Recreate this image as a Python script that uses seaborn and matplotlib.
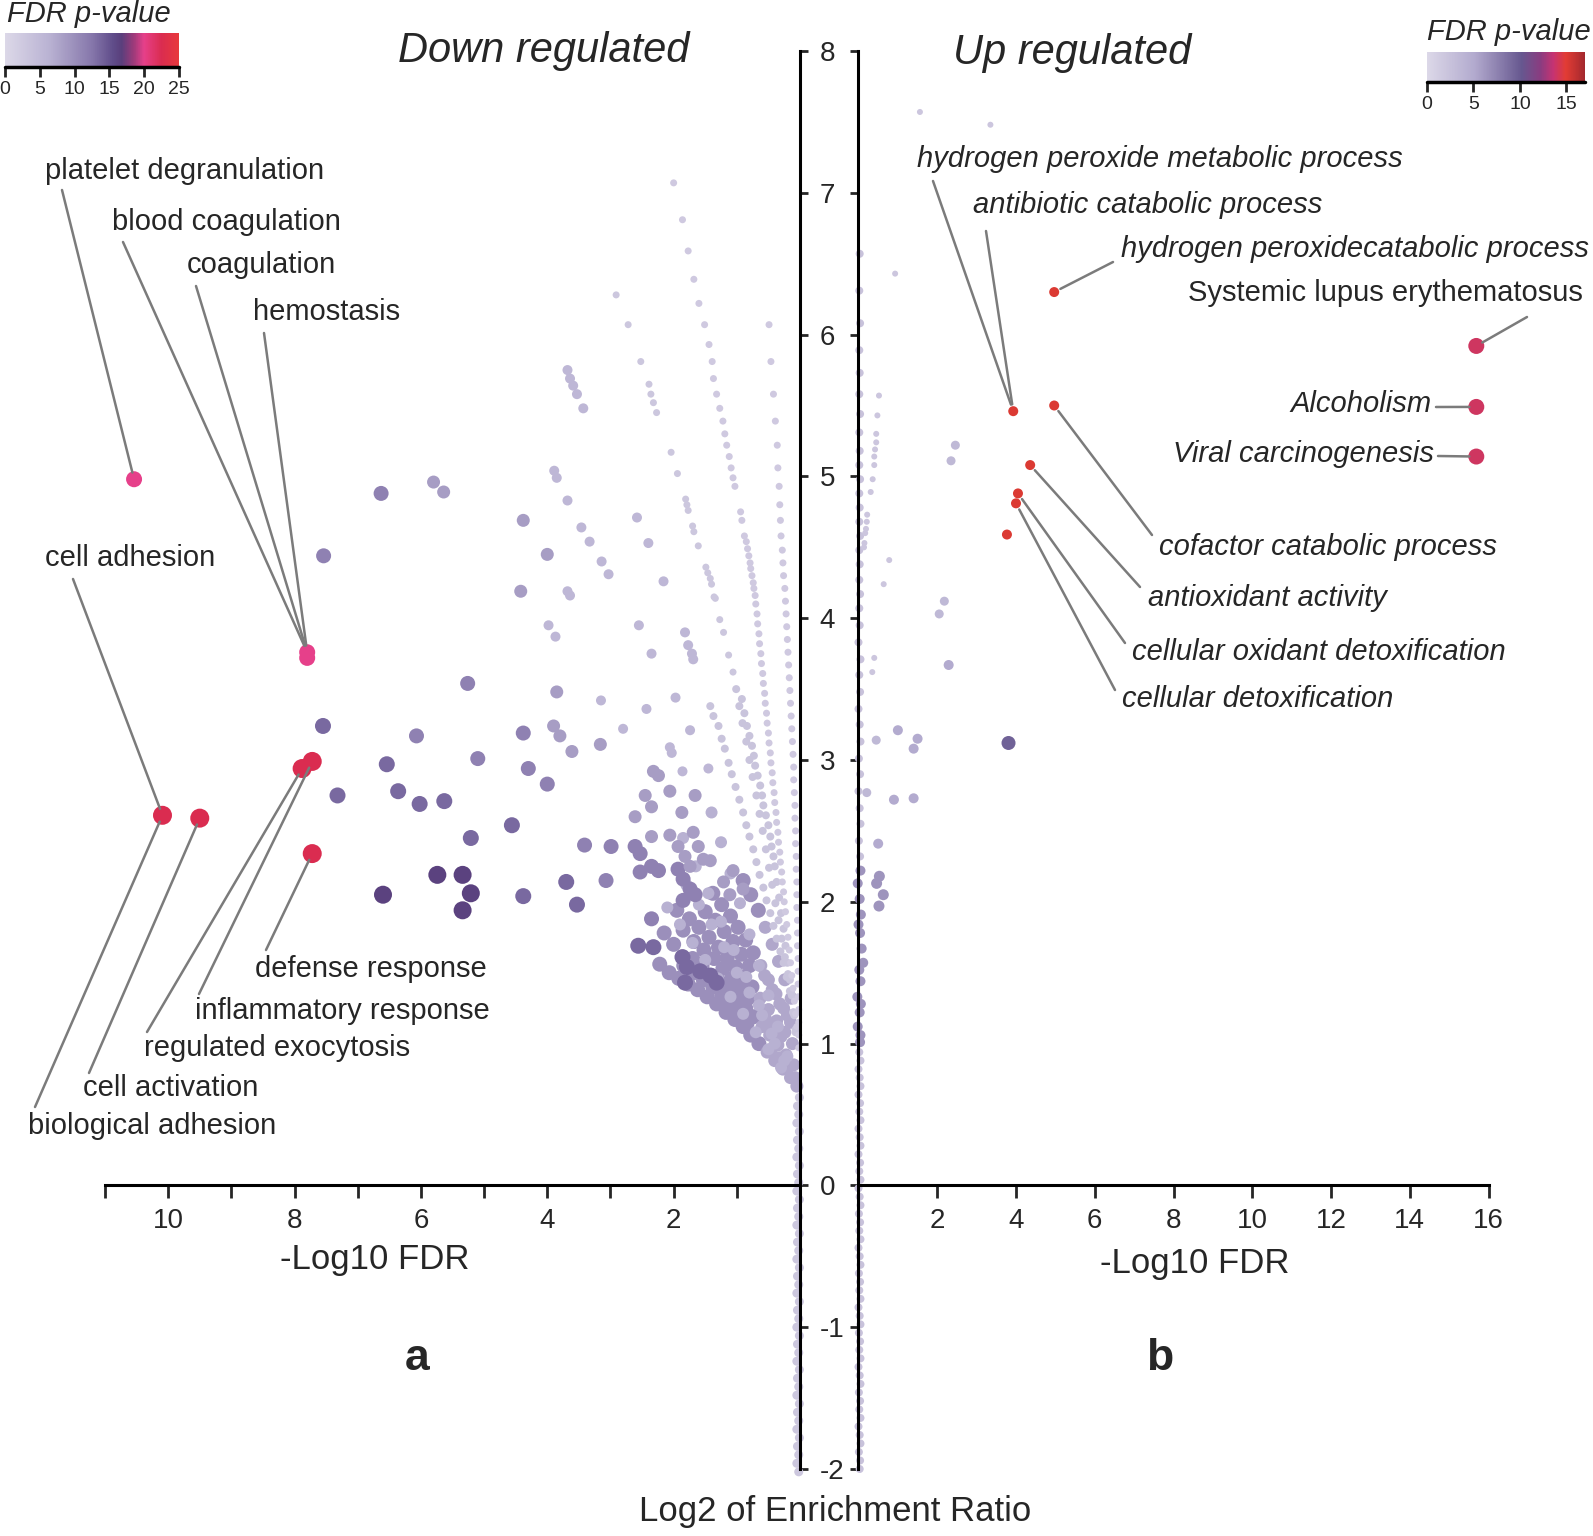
import numpy as np
import pandas as pd
import matplotlib
matplotlib.use("Agg")
import matplotlib.pyplot as plt
from matplotlib.colors import LinearSegmentedColormap, Normalize
from matplotlib.cm import ScalarMappable
import seaborn as sns

# ---------------- panel a: down regulated (-log10 FDR, log2 enrichment ratio)
down_ray_a = [(0.49, 6.07), (0.46, 5.81), (0.42, 5.58), (0.39, 5.39), (0.36, 5.22), (0.35, 5.06),
              (0.33, 4.93), (0.32, 4.80), (0.31, 4.69), (0.30, 4.58), (0.28, 4.48), (0.27, 4.39),
              (0.26, 4.30), (0.24, 4.21), (0.23, 4.12), (0.22, 4.03), (0.21, 3.94), (0.20, 3.85),
              (0.19, 3.76), (0.18, 3.67), (0.17, 3.58), (0.16, 3.49), (0.15, 3.40), (0.14, 3.31),
              (0.13, 3.22), (0.12, 3.13), (0.11, 3.04), (0.10, 2.95), (0.10, 2.86), (0.09, 2.77),
              (0.08, 2.68), (0.08, 2.59), (0.07, 2.50), (0.07, 2.41), (0.06, 2.32), (0.06, 2.23),
              (0.05, 2.14), (0.05, 2.05), (0.05, 1.96), (0.04, 1.87), (0.04, 1.78), (0.04, 1.69),
              (0.03, 1.60), (0.03, 1.51), (0.03, 1.42), (0.03, 1.33), (0.02, 1.24), (0.02, 1.15),
              (0.02, 1.06), (0.02, 0.97)]
down_ray_b = [(2.00, 7.07), (1.86, 6.81), (1.77, 6.59), (1.68, 6.39), (1.60, 6.22), (1.51, 6.07),
              (1.44, 5.93), (1.39, 5.81), (1.37, 5.69), (1.32, 5.58), (1.27, 5.48), (1.22, 5.39),
              (1.19, 5.30), (1.16, 5.22), (1.12, 5.14), (1.09, 5.06), (1.06, 4.99), (1.03, 4.93),
              (0.94, 4.75), (0.92, 4.69), (0.88, 4.58), (0.85, 4.54), (0.83, 4.49), (0.81, 4.44),
              (0.79, 4.39), (0.78, 4.35), (0.76, 4.30), (0.74, 4.25), (0.73, 4.21), (0.71, 4.16),
              (0.70, 4.10), (0.68, 4.03), (0.67, 3.96), (0.65, 3.89), (0.64, 3.82), (0.62, 3.75),
              (0.61, 3.68), (0.59, 3.61), (0.58, 3.54), (0.56, 3.47), (0.55, 3.40), (0.53, 3.33),
              (0.52, 3.26), (0.50, 3.19), (0.49, 3.12), (0.47, 3.05), (0.46, 2.98), (0.44, 2.91),
              (0.43, 2.84), (0.41, 2.77), (0.40, 2.70), (0.38, 2.63), (0.37, 2.56), (0.35, 2.49),
              (0.34, 2.42), (0.32, 2.35), (0.31, 2.28), (0.29, 2.21), (0.28, 2.14), (0.26, 2.07),
              (0.25, 2.00), (0.23, 1.93), (0.21, 1.84), (0.19, 1.75), (0.17, 1.66), (0.15, 1.57),
              (0.13, 1.48), (0.11, 1.39), (0.09, 1.30), (0.07, 1.21), (0.05, 1.12)]
down_ray_c = [(2.91, 6.28), (2.72, 6.07), (2.52, 5.81), (2.39, 5.65), (2.36, 5.58), (2.32, 5.52),
              (2.27, 5.45), (2.04, 5.17), (1.94, 5.02), (1.81, 4.84), (1.79, 4.80), (1.77, 4.76),
              (1.70, 4.65), (1.68, 4.61), (1.61, 4.51), (1.49, 4.36), (1.46, 4.32), (1.42, 4.28),
              (1.40, 4.24), (1.36, 4.15), (1.34, 4.14), (1.27, 3.99), (1.21, 3.90), (1.13, 3.74),
              (1.06, 3.62)]
down_lines = [(0.92, 3.43), (0.88, 3.33), (0.84, 3.24), (0.80, 3.17), (0.76, 3.10), (0.73, 3.03),
              (0.71, 2.96), (0.67, 2.89), (0.63, 2.82), (0.60, 2.75), (0.58, 2.68), (0.54, 2.61),
              (0.50, 2.54), (0.47, 2.46), (0.45, 2.39), (0.42, 2.32), (0.40, 2.25), (0.37, 2.14),
              (0.33, 2.03), (0.30, 1.92), (0.26, 1.81), (0.23, 1.69), (0.20, 1.57), (0.16, 1.45),
              (0.13, 1.34), (0.10, 1.22), (0.07, 1.10),
              (1.42, 3.38), (1.37, 3.31), (1.29, 3.24), (1.24, 3.15), (1.19, 3.08), (1.13, 2.98),
              (1.08, 2.90), (1.02, 2.81), (0.96, 2.72), (0.90, 2.63), (0.85, 2.54), (0.80, 2.46),
              (0.74, 2.37), (0.69, 2.28), (0.64, 2.19), (0.58, 2.10), (0.53, 2.01), (0.47, 1.92),
              (0.42, 1.83), (0.37, 1.74), (0.31, 1.65), (0.26, 1.57), (0.21, 1.47), (0.16, 1.37),
              (0.11, 1.22), (0.07, 1.08),
              (1.01, 3.50), (0.96, 3.38), (0.91, 3.26), (0.85, 3.13), (0.80, 3.00), (0.75, 2.88),
              (0.69, 2.75), (0.64, 2.62), (0.59, 2.50), (0.54, 2.37), (0.49, 2.24), (0.44, 2.12),
              (0.39, 1.99), (0.34, 1.87), (0.29, 1.74), (0.24, 1.61), (0.19, 1.49), (0.14, 1.36),
              (0.09, 1.20)]
down_light = [(3.68, 5.75), (3.64, 5.69), (3.59, 5.64), (3.53, 5.58), (3.43, 5.48), (3.89, 5.04),
              (3.85, 4.99), (3.68, 4.83), (3.46, 4.64), (3.33, 4.54), (3.14, 4.40), (3.03, 4.31),
              (2.58, 4.71), (2.40, 4.53), (2.16, 4.26), (3.68, 4.19), (3.64, 4.16), (3.98, 3.95),
              (3.87, 3.87), (2.55, 3.95), (2.35, 3.75), (1.82, 3.90), (1.77, 3.81), (1.71, 3.75),
              (1.69, 3.71), (1.97, 3.44), (1.74, 3.21), (2.06, 3.09), (2.03, 3.05), (2.43, 3.36),
              (2.80, 3.22), (3.15, 3.42), (1.45, 2.94), (1.86, 2.92)]
down_fan = [(0.25, 0.88), (0.45, 1.07), (0.65, 1.27), (0.85, 1.47), (1.05, 1.66), (1.25, 1.86),
            (1.45, 2.06), (1.65, 2.25), (1.85, 2.45),
            (0.20, 0.91), (0.35, 1.12), (0.50, 1.34), (0.65, 1.55), (0.80, 1.77), (0.95, 1.99),
            (1.10, 2.20), (1.25, 2.42), (1.40, 2.63),
            (0.30, 0.83), (0.50, 0.96), (0.70, 1.08), (0.90, 1.21), (1.10, 1.33), (1.30, 1.46),
            (1.50, 1.59), (1.70, 1.71), (1.90, 1.84), (2.10, 1.96),
            (0.40, 1.00), (0.60, 1.20), (0.80, 1.36), (1.00, 1.50), (1.20, 1.68), (1.40, 1.84),
            (1.60, 1.98), (1.80, 2.12)]
down_mid = [(4.38, 4.69), (4.00, 4.45), (4.42, 4.19), (5.80, 4.96), (5.64, 4.89), (3.85, 3.48),
            (3.90, 3.24), (3.80, 3.17), (3.61, 3.06), (3.16, 3.11), (2.32, 2.92), (2.24, 2.89),
            (2.45, 2.75), (2.35, 2.67), (2.61, 2.60), (2.06, 2.78), (1.66, 2.75), (1.87, 2.63),
            (2.35, 2.46), (2.06, 2.47), (1.93, 2.39), (1.82, 2.32), (1.74, 2.25), (1.69, 2.49),
            (1.61, 2.39), (1.53, 2.30), (1.42, 2.29), (1.21, 2.14), (1.11, 2.05), (1.06, 2.22),
            (0.90, 2.09)]
down_mid_dark = [(6.63, 4.88), (7.54, 4.44), (5.26, 3.54), (4.38, 3.19), (4.30, 2.94), (4.00, 2.83),
                 (5.10, 3.01), (6.07, 3.17), (2.61, 2.39), (2.53, 2.34), (2.35, 2.25), (2.24, 2.22),
                 (2.53, 2.21), (1.93, 2.23), (1.85, 2.16), (1.74, 2.09), (1.66, 2.05), (1.85, 2.01),
                 (2.35, 1.88), (2.99, 2.39), (3.41, 2.40), (3.07, 2.15)]
down_dark = [(7.55, 3.24), (6.54, 2.97), (6.36, 2.78), (6.02, 2.69), (5.63, 2.71), (5.21, 2.45),
             (4.56, 2.54), (3.70, 2.14), (3.53, 1.98), (2.56, 1.69), (2.32, 1.68), (1.86, 1.61),
             (1.79, 1.54), (1.82, 1.43), (1.58, 1.51), (1.42, 1.48), (1.32, 1.43), (7.32, 2.75),
             (4.38, 2.04)]
down_darkest = [(5.74, 2.19), (5.34, 2.19), (5.21, 2.06), (5.34, 1.94), (6.60, 2.05)]
down_blob_inner = [(0.05, 0.70), (0.15, 0.76), (0.27, 0.82), (0.40, 0.88), (0.52, 0.94), (0.10, 0.85),
                   (0.22, 0.92), (0.35, 0.99), (0.48, 1.06), (0.60, 1.12), (0.12, 1.00), (0.24, 1.08),
                   (0.37, 1.16), (0.50, 1.24), (0.63, 1.32), (0.15, 1.15), (0.26, 1.25), (0.38, 1.35),
                   (0.50, 1.45), (0.62, 1.55), (0.14, 1.32), (0.24, 1.45), (0.34, 1.58), (0.44, 1.70),
                   (0.55, 1.82), (0.08, 0.76), (0.20, 0.82), (0.32, 0.90), (0.45, 0.96), (0.30, 1.05),
                   (0.42, 1.12), (0.55, 1.18), (0.20, 1.20), (0.32, 1.28), (0.44, 1.38), (0.56, 1.48)]
down_blob_outer = [(0.65, 1.00), (0.78, 1.06), (0.90, 1.12), (1.03, 1.17), (1.17, 1.22), (1.32, 1.28),
                   (1.47, 1.33), (1.62, 1.38), (1.77, 1.42), (1.92, 1.46), (2.07, 1.50), (2.22, 1.56),
                   (0.73, 1.19), (0.86, 1.25), (0.99, 1.31), (1.12, 1.37), (1.26, 1.43), (1.40, 1.48),
                   (1.55, 1.55), (1.70, 1.60), (2.00, 1.70), (2.15, 1.78), (0.76, 1.40), (0.89, 1.47),
                   (1.02, 1.54), (1.15, 1.61), (1.29, 1.68), (1.44, 1.75), (1.60, 1.82), (1.75, 1.88),
                   (1.95, 1.94), (0.74, 1.64), (0.86, 1.73), (0.98, 1.82), (1.10, 1.90), (1.24, 1.98),
                   (1.38, 2.06), (0.66, 1.94), (0.78, 2.05), (0.90, 2.15), (0.84, 1.14), (0.97, 1.22),
                   (1.10, 1.28), (1.24, 1.34), (1.38, 1.40), (1.53, 1.45), (1.68, 1.50), (1.84, 1.55),
                   (0.82, 1.32), (0.95, 1.39), (1.08, 1.46), (1.22, 1.53), (1.36, 1.60), (1.52, 1.66),
                   (1.68, 1.72), (1.85, 1.80), (0.80, 1.55), (0.93, 1.63), (1.06, 1.72), (1.20, 1.79),
                   (1.34, 1.87), (1.50, 1.93)]
down_axis_col = [(0.01, 0.62), (0.04, 0.56), (0.02, 0.50), (0.05, 0.44), (0.01, 0.38), (0.04, 0.32),
                 (0.02, 0.26), (0.05, 0.20), (0.01, 0.14), (0.04, 0.08), (0.02, 0.02), (0.05, -0.04),
                 (0.01, -0.10), (0.04, -0.16), (0.02, -0.22), (0.05, -0.28), (0.01, -0.34), (0.04, -0.40),
                 (0.02, -0.46), (0.05, -0.52), (0.01, -0.58), (0.04, -0.64), (0.02, -0.70), (0.05, -0.76),
                 (0.01, -0.82), (0.04, -0.88), (0.02, -0.94), (0.05, -1.00), (0.01, -1.06), (0.04, -1.12),
                 (0.02, -1.18), (0.05, -1.24), (0.01, -1.30), (0.04, -1.36), (0.02, -1.42), (0.05, -1.48),
                 (0.01, -1.54), (0.04, -1.60), (0.02, -1.66), (0.05, -1.72), (0.01, -1.78), (0.04, -1.84),
                 (0.02, -1.90), (0.05, -1.96), (0.02, -2.02)]
down_pink = [(10.54, 4.98), (7.80, 3.76), (7.80, 3.72)]
down_red = [(10.09, 2.61), (9.50, 2.59), (7.88, 2.94), (7.72, 2.99), (7.72, 2.34)]

# (points, FDR colour value, marker diameter px), in drawing order
down_groups = [(down_blob_outer, 10.0, 15), (down_blob_inner, 7.5, 13), (down_fan, 6.5, 12),
               (down_mid_dark, 11.5, 15), (down_dark, 13.5, 16), (down_mid, 8.5, 13),
               (down_light, 5.5, 10), (down_lines, 3.5, 8), (down_ray_c, 3.0, 7),
               (down_ray_b, 2.5, 7), (down_ray_a, 2.5, 7), (down_axis_col, 3.0, 9),
               (down_darkest, 16.5, 18), (down_pink, 20.0, 16), (down_red, 22.5, 19)]

# ---------------- panel b: up regulated
up_axis_col = [(0.03, 6.57), (0.02, 6.31), (0.04, 6.08), (0.02, 5.89), (0.03, 5.73), (0.02, 5.58),
               (0.04, 5.44), (0.02, 5.31), (0.03, 5.18), (0.02, 5.08), (0.04, 4.98), (0.02, 4.88),
               (0.03, 4.78), (0.02, 4.68), (0.04, 4.58), (0.02, 4.48), (0.03, 4.38), (0.02, 4.27),
               (0.04, 4.17), (0.02, 4.07), (0.03, 3.95), (0.00, 3.83), (0.05, 3.71), (0.02, 3.60),
               (0.04, 3.48), (0.00, 3.36), (0.03, 3.25), (0.05, 3.13), (0.01, 3.01), (0.04, 2.90),
               (0.00, 2.78), (0.03, 2.66), (0.05, 2.55), (0.01, 2.43), (0.04, 2.32),
               (0.02, 0.94), (0.05, 0.88), (0.00, 0.82), (0.03, 0.76), (0.05, 0.70), (0.00, 0.64),
               (0.04, 0.58), (0.02, 0.52), (0.05, 0.46), (0.00, 0.40), (0.03, 0.34), (0.05, 0.28),
               (0.00, 0.22), (0.04, 0.16), (0.02, 0.10), (0.05, 0.04), (0.00, -0.02), (0.03, -0.08),
               (0.05, -0.14), (0.01, -0.20), (0.04, -0.26), (0.02, -0.32), (0.05, -0.38), (0.00, -0.44),
               (0.03, -0.50), (0.05, -0.56), (0.01, -0.62), (0.04, -0.68), (0.02, -0.74), (0.05, -0.80),
               (0.00, -0.86), (0.03, -0.92), (0.05, -0.98), (0.01, -1.04), (0.04, -1.10), (0.02, -1.16),
               (0.05, -1.22), (0.00, -1.28), (0.03, -1.34), (0.05, -1.40), (0.01, -1.46), (0.04, -1.52),
               (0.02, -1.58), (0.05, -1.64), (0.00, -1.70), (0.03, -1.76), (0.05, -1.82), (0.01, -1.88),
               (0.04, -1.94), (0.03, -2.00)]
up_axis_purple = [(0.05, 2.22), (-0.02, 2.13), (0.03, 2.02), (0.06, 1.91), (0.00, 1.84), (0.04, 1.78),
                  (0.08, 1.67), (0.12, 1.57), (0.02, 1.52), (0.05, 1.44), (-0.03, 1.33), (0.06, 1.28),
                  (0.03, 1.22), (-0.02, 1.12), (0.05, 1.06), (0.04, 1.01)]
up_tiny = [(1.56, 7.57), (3.35, 7.48), (0.93, 6.43), (0.52, 5.57), (0.48, 5.43), (0.45, 5.30),
           (0.45, 5.24), (0.42, 5.19), (0.40, 5.14), (0.40, 5.08), (0.36, 4.98), (0.31, 4.89),
           (0.22, 4.73), (0.21, 4.68), (0.19, 4.63), (0.17, 4.60), (0.15, 4.53), (0.14, 4.50),
           (0.78, 4.41), (0.64, 4.24), (0.40, 3.72), (0.35, 3.62)]
up_small = [(2.46, 5.22), (2.35, 5.11), (2.18, 4.12), (2.05, 4.03), (0.45, 3.14), (0.21, 2.77)]
up_medium = [(2.29, 3.67), (1.00, 3.21), (1.50, 3.15), (1.40, 3.08), (0.90, 2.72), (1.40, 2.73),
             (0.50, 2.41)]
up_purple = [(0.53, 2.18), (0.46, 2.13), (0.63, 2.05), (0.52, 1.97)]
up_dark = [(3.81, 3.12)]
up_red = [(4.97, 6.30), (3.93, 5.46), (4.97, 5.50), (4.36, 5.08), (4.05, 4.88), (4.00, 4.81),
          (3.77, 4.59)]
up_crimson = [(15.69, 5.92), (15.69, 5.49), (15.69, 5.14)]

up_groups = [(up_axis_col, 2.5, 8), (up_axis_purple, 6.5, 10), (up_tiny, 2.0, 6), (up_small, 3.5, 9),
             (up_medium, 5.0, 10), (up_purple, 6.5, 11), (up_dark, 9.5, 14), (up_red, 15.2, 10),
             (up_crimson, 14.0, 16)]

down_labels = ["platelet degranulation", "blood coagulation", "coagulation", "hemostasis",
               "cell adhesion", "defense response", "inflammatory response", "regulated exocytosis",
               "cell activation", "biological adhesion"]
down_targets = [(10.54, 4.98), (7.80, 3.76), (7.80, 3.76), (7.80, 3.76), (10.09, 2.61), (7.72, 2.34),
                (7.72, 2.99), (7.88, 2.94), (9.50, 2.59), (10.09, 2.61)]
up_labels = ["hydrogen peroxide metabolic process", "antibiotic catabolic process",
             "hydrogen peroxidecatabolic process", "Systemic lupus erythematosus", "Alcoholism",
             "Viral carcinogenesis", "cofactor catabolic process", "antioxidant activity",
             "cellular oxidant detoxification", "cellular detoxification"]
up_targets = [(3.93, 5.46), (3.93, 5.46), (4.97, 6.30), (15.69, 5.92), (15.69, 5.49), (15.69, 5.14),
              (4.97, 5.50), (4.36, 5.08), (4.05, 4.88), (4.00, 4.81)]

# layout (figure pixels from top-left): text anchor (left, centre y) and line start
down_text_pos = [(45, 171), (112, 222), (187, 265), (253, 312), (45, 558), (255, 969), (195, 1011),
                 (144, 1048), (83, 1088), (28, 1126)]
down_line_start = [(62, 190), (123, 242), (196, 286), (264, 333), (73, 579), (266, 950), (199, 994),
                   (147, 1032), (89, 1073), (35, 1107)]
up_text_pos = [(917, 159), (973, 205), (1121, 249), (1188, 293), (1290, 404), (1173, 454),
               (1159, 547), (1148, 598), (1132, 652), (1122, 699)]
up_line_start = [(933, 181), (986, 231), (1113, 262), (1527, 317), (1436, 407), (1438, 456),
                 (1152, 535), (1140, 587), (1125, 643), (1115, 690)]

W, H = 1593, 1536


def fxy(px, py):
    return px / W, 1 - py / H


def frame(groups):
    rows = []
    for pts, c, d in groups:
        for x, y in pts:
            rows.append((x, y, c, d))
    return pd.DataFrame(rows, columns=["fdr", "ratio", "pval", "diam"])


sns.set_style("white")
plt.rcParams["font.family"] = ["Liberation Sans", "DejaVu Sans"]
plt.rcParams["axes.unicode_minus"] = False

down_cmap = LinearSegmentedColormap.from_list("down", [
    (0.0, "#dcd8e8"), (0.25, "#bab3d3"), (0.5, "#8677ab"), (0.62, "#604d8a"), (0.67, "#5a3f7c"),
    (0.74, "#9c3a7a"), (0.8, "#e6408a"), (0.9, "#da2c50"), (1.0, "#e8383c")])
up_cmap = LinearSegmentedColormap.from_list("up", [
    (0.0, "#dcd8e8"), (0.3, "#b2aace"), (0.6, "#66578f"), (0.72, "#8a3c80"), (0.8, "#c53372"),
    (0.88, "#e23c34"), (1.0, "#a3282e")])
down_norm = Normalize(0, 25)
up_norm = Normalize(0, 17)

fig = plt.figure(figsize=(W / 100, H / 100), dpi=100)
bottom = (H - 1469) / H
height = (1469 - 51) / H
ax1 = fig.add_axes([105 / W, bottom, 695 / W, height])
ax2 = fig.add_axes([858.5 / W, bottom, 630 / W, height])

df_down = frame(down_groups)
df_up = frame(up_groups)
for ax, df, cmap, norm in [(ax1, df_down, down_cmap, down_norm), (ax2, df_up, up_cmap, up_norm)]:
    sizes = {d: (d * 0.72) ** 2 for d in df["diam"].unique()}
    sns.scatterplot(data=df, x="fdr", y="ratio", hue="pval", palette=cmap, hue_norm=norm,
                    size="diam", sizes=sizes, linewidth=0, alpha=1, legend=False, ax=ax)
    for coll in ax.collections:
        coll.set_clip_on(False)
    ax.set_ylim(-2, 8)
    ax.set_xlabel("")
    ax.set_ylabel("")
    ax.set_facecolor("none")
    ax.spines["top"].set_visible(False)
    ax.spines["bottom"].set_position(("data", 0))
    for s in ax.spines.values():
        s.set_linewidth(2.2)
        s.set_color("black")

# left panel
ax1.set_xlim(11, 0)
ax1.spines["left"].set_visible(False)
ax1.set_xticks(range(1, 12))
ax1.set_xticklabels(["" if i % 2 else str(i) for i in range(1, 12)])
ax1.yaxis.tick_right()
ax1.set_yticks(range(-2, 9))
ax1.tick_params(axis="x", bottom=True, direction="out", length=9, width=2, pad=7, labelsize=20)
ax1.tick_params(axis="y", right=True, left=False, direction="out", length=6, width=2, pad=8,
                labelsize=20)

# right panel
ax2.set_xlim(0, 16)
ax2.spines["right"].set_visible(False)
ax2.set_xticks(range(2, 17, 2))
ax2.set_yticks(range(-2, 9))
ax2.tick_params(axis="x", bottom=True, direction="out", length=9, width=2, pad=7, labelsize=20)
ax2.tick_params(axis="y", left=True, direction="out", length=6, width=2, labelleft=False)

line_kw = dict(arrowstyle="-", color="#7b7b7b", lw=1.8, shrinkA=0, shrinkB=5)
for ax, labels, targets, tpos, lstart, ital in [
        (ax1, down_labels, down_targets, down_text_pos, down_line_start, False),
        (ax2, up_labels, up_targets, up_text_pos, up_line_start, True)]:
    for lab, tgt, tp, ls in zip(labels, targets, tpos, lstart):
        ax.annotate("", xy=tgt, xycoords="data", xytext=fxy(*ls), textcoords="figure fraction",
                    arrowprops=line_kw, annotation_clip=False)
        style = "italic" if ital and lab != "Systemic lupus erythematosus" else "normal"
        fig.text(*fxy(*tp), lab, ha="left", va="center", fontsize=21, style=style)

fig.text(*fxy(544, 51), "Down regulated", ha="center", va="center", fontsize=30, style="italic")
fig.text(*fxy(1072, 53), "Up regulated", ha="center", va="center", fontsize=30, style="italic")
fig.text(*fxy(417, 1358), "a", ha="center", va="center", fontsize=32, weight="bold")
fig.text(*fxy(1160, 1358), "b", ha="center", va="center", fontsize=32, weight="bold")
fig.text(*fxy(375, 1260), "-Log10 FDR", ha="center", va="center", fontsize=25)
fig.text(*fxy(1195, 1264), "-Log10 FDR", ha="center", va="center", fontsize=25)
fig.text(*fxy(835, 1511), "Log2 of Enrichment Ratio", ha="center", va="center", fontsize=25)

# colour bars
for rect, cmap, norm, ticks, title_xy in [
        ((5, 33, 174, 34), down_cmap, down_norm, [0, 5, 10, 15, 20, 25], (89, 14)),
        ((1427, 52, 158, 30), up_cmap, up_norm, [0, 5, 10, 15], (1509, 32))]:
    x0, y0, w, h = rect
    cax = fig.add_axes([x0 / W, 1 - (y0 + h) / H, w / W, h / H])
    cb = fig.colorbar(ScalarMappable(norm=norm, cmap=cmap), cax=cax, orientation="horizontal")
    cb.outline.set_visible(False)
    cb.set_ticks(ticks)
    cax.tick_params(bottom=True, direction="out", length=7, width=2, labelsize=14, pad=3)
    cax.axhline(cax.get_ylim()[0], color="black", lw=2.5, clip_on=False)
    fig.text(*fxy(*title_xy), "FDR p-value", ha="center", va="center", fontsize=21, style="italic")

fig.savefig("out.png", dpi=100, facecolor="white")
